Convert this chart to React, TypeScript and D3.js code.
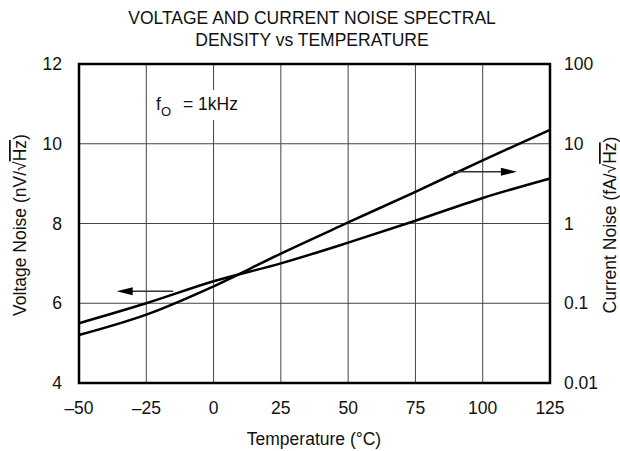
import * as d3 from 'd3'

// temperature (°C) and readings taken off the curves
const temps = [-50, -25, 0, 25, 50, 75, 100, 125]
const voltageNoise = [5.5, 6.0, 6.55, 7.0, 7.52, 8.07, 8.64, 9.13]
const currentNoise = [0.04, 0.072, 0.163, 0.42, 1.03, 2.5, 6.2, 14.9]

const xTicks = [-50, -25, 0, 25, 50, 75, 100, 125]
const leftTicks = [4, 6, 8, 10, 12]
const rightTicks = [0.01, 0.1, 1, 10, 100]
const rightTickLabels = ['0.01', '0.1', '1', '10', '100']

const width = 620
const height = 451
const marginLeft = 79
const marginRight = 70
const marginTop = 64
const marginBottom = 68

const font = 'Liberation Sans, Arial, sans-serif'
const fs = 17.5

const fmtX = (t: number) => (t < 0 ? '\u2013' + Math.abs(t) : String(t))

export default function App() {
  const x = d3.scaleLinear([-50, 125], [marginLeft, width - marginRight])
  const yL = d3.scaleLinear([4, 12], [height - marginBottom, marginTop])
  const yR = d3.scaleLog([0.01, 100], [height - marginBottom, marginTop])

  const vLine = d3
    .line<number>()
    .x((_, i) => x(temps[i]))
    .y((d) => yL(d))
    .curve(d3.curveMonotoneX)
  const iLine = d3
    .line<number>()
    .x((_, i) => x(temps[i]))
    .y((d) => yR(d))
    .curve(d3.curveMonotoneX)

  const x0 = x(-50)
  const x1 = x(125)
  const y0 = yL(4)
  const y1 = yL(12)
  const grid = '#444'

  // arrows: left one hangs off the voltage curve, right one off the current curve
  const la = { from: x(-15), to: x(-36), y: yL(6.3) }
  const ra = { from: x(89), to: x(112.7), y: yR(4.45) }

  return (
    <svg
      width={width}
      height={height}
      style={{ position: 'absolute', left: 0, top: 0 }}
      fontFamily={font}
    >
      <rect width={width} height={height} fill="#fff" />
      <text x={312} y={24} fontSize={fs} textAnchor="middle" fill="#111">
        VOLTAGE AND CURRENT NOISE SPECTRAL
      </text>
      <text x={312} y={46} fontSize={fs} textAnchor="middle" fill="#111">
        DENSITY vs TEMPERATURE
      </text>

      {/* grid */}
      {xTicks.slice(1, -1).map((t) => (
        <line key={'gx' + t} x1={x(t)} x2={x(t)} y1={y1} y2={y0} stroke={grid} strokeWidth={1} />
      ))}
      {leftTicks.slice(1, -1).map((t) => (
        <line key={'gy' + t} x1={x0} x2={x1} y1={yL(t)} y2={yL(t)} stroke={grid} strokeWidth={1} />
      ))}

      {/* fO label, with a white box behind it */}
      <rect x={150} y={90} width={100} height={30} fill="#fff" />
      <text x={156} y={110} fontSize={fs} fill="#111">
        f
        <tspan fontSize={13} dy={6}>O</tspan>
        <tspan dy={-6} dx={12}>= 1kHz</tspan>
      </text>

      <path d={vLine(voltageNoise) as string} fill="none" stroke="#000" strokeWidth={2.5} />
      <path d={iLine(currentNoise) as string} fill="none" stroke="#000" strokeWidth={2.5} />

      {/* arrows */}
      <line x1={la.from} x2={la.to + 14} y1={la.y} y2={la.y} stroke="#333" strokeWidth={1.5} />
      <path d={`M${la.to},${la.y}L${la.to + 16},${la.y - 4}L${la.to + 16},${la.y + 4}Z`} fill="#000" />
      <line x1={ra.from} x2={ra.to - 14} y1={ra.y} y2={ra.y} stroke="#333" strokeWidth={1.5} />
      <path d={`M${ra.to},${ra.y}L${ra.to - 16},${ra.y - 4}L${ra.to - 16},${ra.y + 4}Z`} fill="#000" />

      {/* frame */}
      <rect x={x0} y={y1} width={x1 - x0} height={y0 - y1} fill="none" stroke="#000" strokeWidth={2.5} />

      {/* tick labels */}
      {xTicks.map((t) => (
        <text key={'xt' + t} x={x(t)} y={414} fontSize={fs} textAnchor="middle" fill="#111">
          {fmtX(t)}
        </text>
      ))}
      {leftTicks.map((t) => (
        <text key={'lt' + t} x={62} y={yL(t) + 6} fontSize={fs} textAnchor="end" fill="#111">
          {t}
        </text>
      ))}
      {rightTicks.map((t, i) => (
        <text key={'rt' + t} x={564} y={yR(t) + 6} fontSize={fs} textAnchor="start" fill="#111">
          {rightTickLabels[i]}
        </text>
      ))}

      {/* axis titles */}
      <text x={314} y={445} fontSize={fs} textAnchor="middle" fill="#111">
        Temperature (°C)
      </text>
      <text transform={`translate(26,225) rotate(-90)`} fontSize={fs} textAnchor="middle" fill="#111">
        Voltage Noise (nV/√<tspan style={{ textDecoration: 'overline' }}>Hz</tspan>)
      </text>
      <text transform={`translate(616,225) rotate(-90)`} fontSize={fs} textAnchor="middle" fill="#111">
        Current Noise (fA/√<tspan style={{ textDecoration: 'overline' }}>Hz</tspan>)
      </text>
    </svg>
  )
}
